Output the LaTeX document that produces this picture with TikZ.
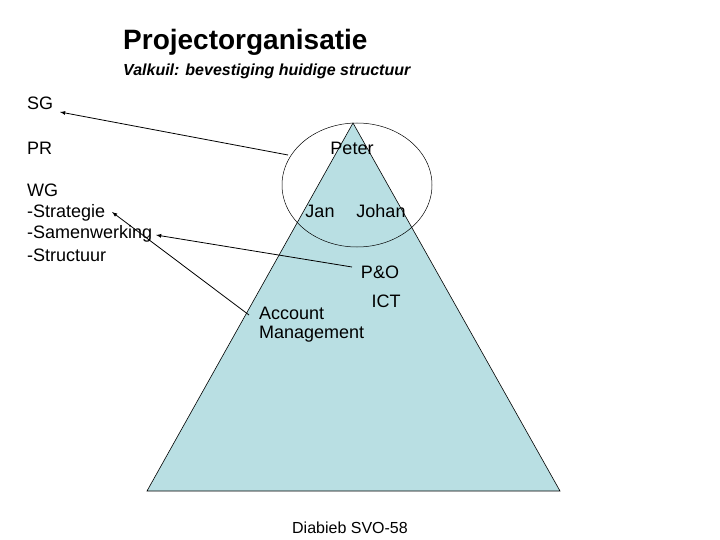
\documentclass[tikz,border=0pt]{standalone}
\usepackage{fontspec}
\setmainfont{Liberation Sans}
\begin{document}
\begin{tikzpicture}[x=1pt,y=-1pt,
  lbl/.style={anchor=west,inner sep=0pt,font=\fontsize{18}{20}\selectfont},
  arr/.style={-latex,line width=0.8pt}]
\useasboundingbox (0,0) rectangle (720,540);
\fill[fill=white] (0,0) rectangle (720,540);
\filldraw[fill={rgb,255:red,185;green,223;blue,227},draw=black,line width=0.6pt] (353,123) -- (560,491) -- (147,491) -- cycle;
\draw[line width=0.5pt] (357,185) ellipse [x radius=75, y radius=62];
\node[lbl,font=\bfseries\fontsize{28}{30}\selectfont] (t) at (123,42) {Projectorganisatie};
\node[lbl,font=\bfseries\itshape\fontsize{16}{18}\selectfont] (st) at (123,71) {Valkuil: bevestiging huidige structuur};
\node[lbl] (sg) at (27,103) {SG};
\node[lbl] (pr) at (27,148) {PR};
\node[lbl] (wg) at (27,190) {WG};
\node[lbl] (s1) at (27,213) {-Strategie};
\node[lbl] (s2) at (27,234) {-Samenwerking};
\node[lbl] (s3) at (27,255) {-Structuur};
\node[lbl,anchor=center] (peter) at (352,148) {Peter};
\node[lbl,anchor=center] (jan) at (320,211) {Jan};
\node[lbl,anchor=center] (johan) at (381,211) {Johan};
\node[lbl,anchor=center] (po) at (380,272) {P\&O};
\node[lbl,anchor=center] (ict) at (386,301) {ICT};
\node[lbl] (acc) at (259,313) {Account};
\node[lbl] (man) at (259,334) {Management};
\node[lbl,anchor=center,font=\fontsize{16}{18}\selectfont] (f) at (350,528) {Diabieb SVO-58};
\coordinate (a1) at (288,155);
\coordinate (a2) at (352,267);
\coordinate (a3) at (249,315);
\coordinate (t1) at (60,112);
\coordinate (t2) at (156,235);
\coordinate (t3) at (112,212);
\draw[arr] (a1) -- (t1);
\draw[arr] (a2) -- (t2);
\draw[arr] (a3) -- (t3);
\end{tikzpicture}
\end{document}
